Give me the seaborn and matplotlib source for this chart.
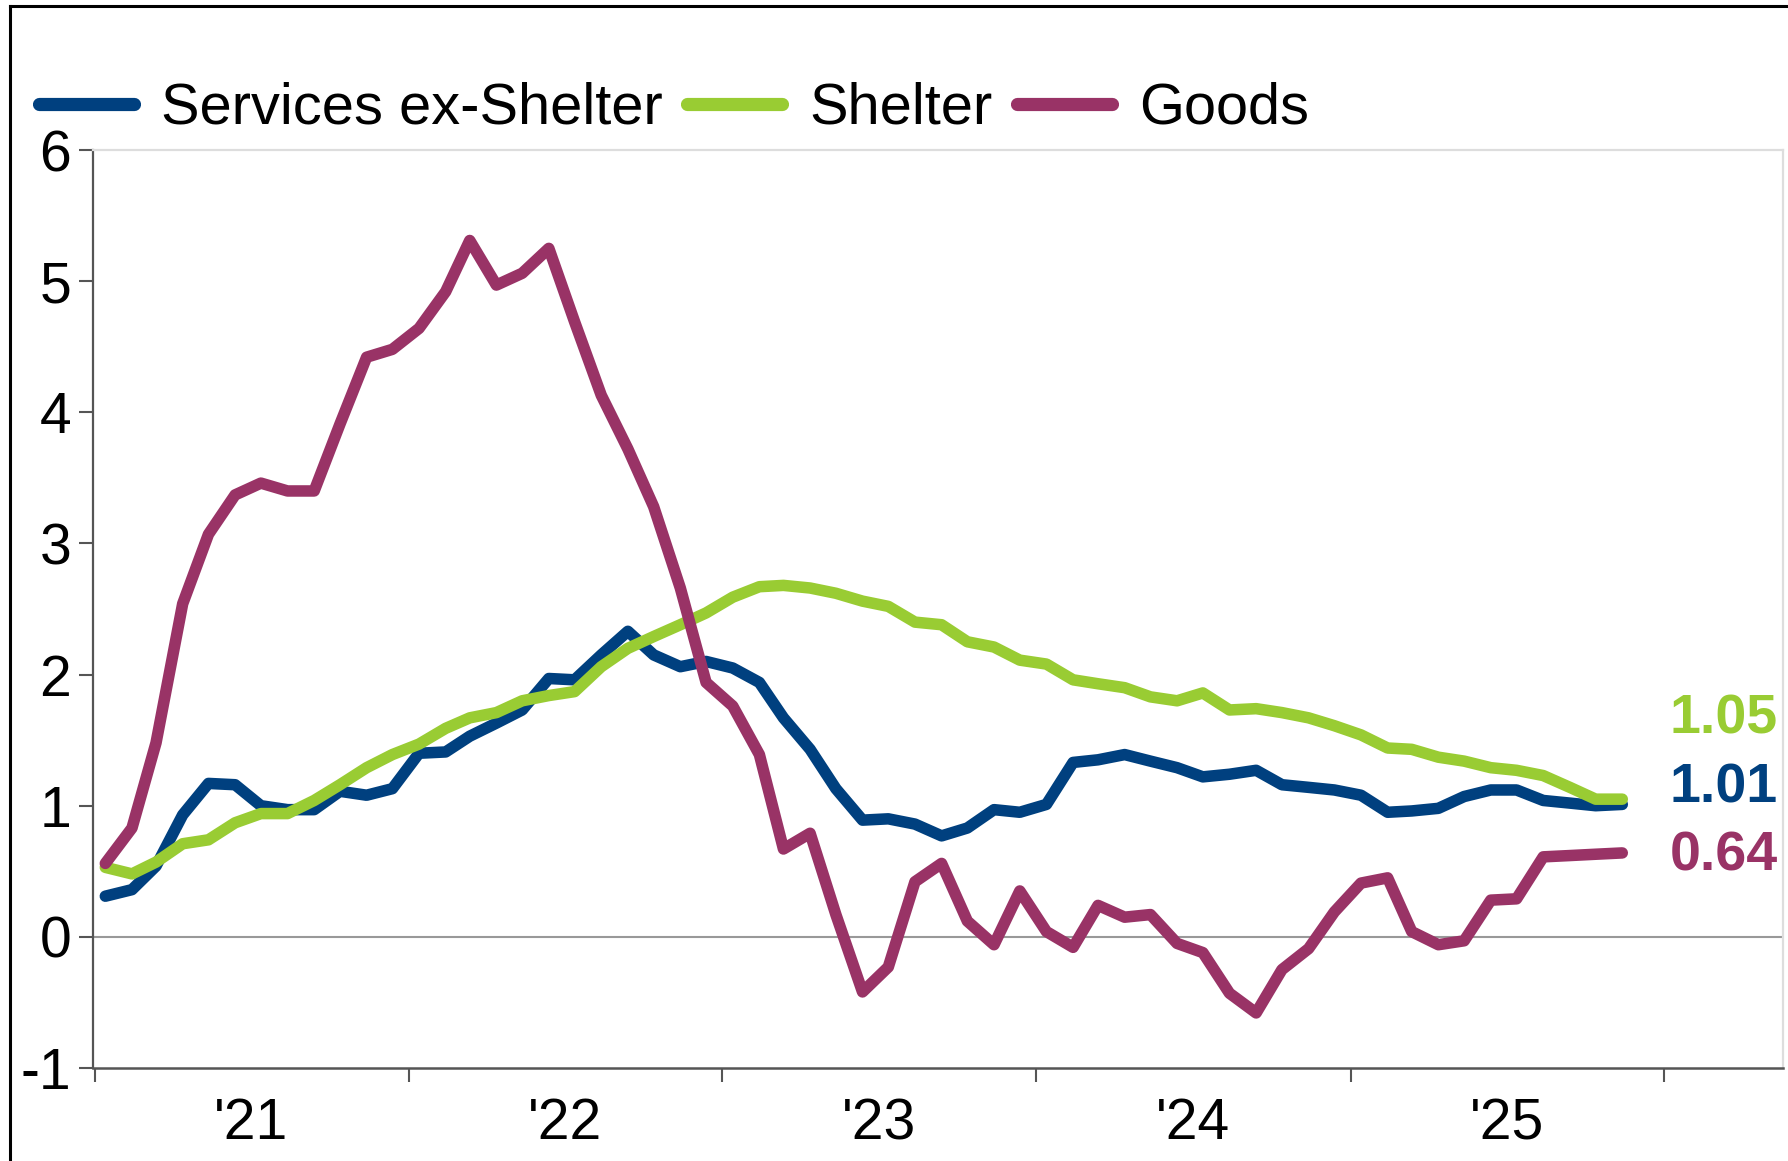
import numpy as np
import pandas as pd
import matplotlib
matplotlib.use("Agg")
import matplotlib.pyplot as plt
import matplotlib.dates as mdates
import matplotlib.transforms as mtransforms
from matplotlib.lines import Line2D
import seaborn as sns

# Monthly observations, Jan 2021 - Nov 2025
months = pd.date_range("2021-01-01", "2025-11-01", freq="MS")

services_ex_shelter = [
    0.31, 0.36, 0.54, 0.93, 1.17, 1.16, 1.00, 0.97, 0.97, 1.11, 1.08, 1.13,
    1.40, 1.41, 1.53, 1.63, 1.73, 1.97, 1.96, 2.15, 2.33, 2.15, 2.06, 2.10,
    2.05, 1.94, 1.67, 1.43, 1.13, 0.89, 0.90, 0.86, 0.77, 0.83, 0.97, 0.95,
    1.01, 1.33, 1.35, 1.39, 1.34, 1.29, 1.22, 1.24, 1.27, 1.16, 1.14, 1.12,
    1.08, 0.95, 0.96, 0.98, 1.07, 1.12, 1.12, 1.04, 1.02, 1.00, 1.01,
]
shelter = [
    0.53, 0.48, 0.57, 0.71, 0.74, 0.87, 0.94, 0.94, 1.04, 1.16, 1.29, 1.39,
    1.47, 1.59, 1.67, 1.71, 1.80, 1.84, 1.87, 2.06, 2.20, 2.29, 2.38, 2.47,
    2.59, 2.67, 2.68, 2.66, 2.62, 2.56, 2.52, 2.40, 2.38, 2.25, 2.21, 2.11,
    2.08, 1.96, 1.93, 1.90, 1.83, 1.80, 1.86, 1.73, 1.74, 1.71, 1.67, 1.61,
    1.54, 1.44, 1.43, 1.37, 1.34, 1.29, 1.27, 1.23, 1.14, 1.05, 1.05,
]
goods = [
    0.56, 0.83, 1.48, 2.54, 3.07, 3.37, 3.46, 3.40, 3.40, 3.91, 4.42, 4.48,
    4.64, 4.92, 5.31, 4.97, 5.06, 5.25, 4.69, 4.13, 3.72, 3.28, 2.66, 1.94,
    1.76, 1.39, 0.67, 0.79, 0.17, -0.42, -0.23, 0.42, 0.56, 0.12, -0.06, 0.35,
    0.04, -0.08, 0.24, 0.15, 0.17, -0.05, -0.12, -0.43, -0.58, -0.25, -0.09, 0.19,
    0.41, 0.45, 0.04, -0.06, -0.03, 0.28, 0.29, 0.61, 0.62, 0.63, 0.64,
]

series_names = ["Services ex-Shelter", "Shelter", "Goods"]
series_colors = ["#00407f", "#99cc33", "#993366"]
year_labels = ["'21", "'22", "'23", "'24", "'25"]
y_ticks = [-1, 0, 1, 2, 3, 4, 5, 6]

# Long-form table for seaborn
wide = pd.DataFrame({
    "date": months + pd.Timedelta(days=12),
    series_names[0]: services_ex_shelter,
    series_names[1]: shelter,
    series_names[2]: goods,
})
df = wide.melt(id_vars="date", var_name="series", value_name="value")
palette = dict(zip(series_names, series_colors))

sns.set_theme(style="white")
plt.rcParams["font.family"] = ["Liberation Sans", "DejaVu Sans"]
plt.rcParams["axes.unicode_minus"] = False
plt.rcParams["text.color"] = "black"

W, H = 1788, 1161
fig = plt.figure(figsize=(W / 100, H / 100), dpi=100)
fig.patch.set_facecolor("white")
ax = fig.add_axes([93.3 / W, 1 - 1068 / H, (1783 - 93.3) / W, (1068 - 150) / H])

sns.lineplot(
    data=df, x="date", y="value", hue="series", hue_order=series_names,
    palette=palette, linewidth=8.3, legend=False, ax=ax,
    solid_capstyle="round", solid_joinstyle="round", zorder=3,
)

ax.axhline(0, color="#999999", lw=1.5, zorder=1)

# Axes limits and ticks
ax.set_ylim(-1, 6)
ax.set_yticks(y_ticks)
ax.set_yticklabels([str(t) for t in y_ticks])
ax.set_xlim(pd.Timestamp("2020-12-30"), pd.Timestamp("2026-05-19"))
ax.xaxis.set_major_locator(mdates.YearLocator())
ax.xaxis.set_major_formatter(plt.NullFormatter())
ax.set_xticks([pd.Timestamp(f"{y}-07-02") for y in range(2021, 2026)], minor=True)
ax.set_xticklabels(year_labels, minor=True)
ax.set_xlabel("")
ax.set_ylabel("")

ax.tick_params(axis="x", which="major", length=10, width=1.5, color="#555555",
               direction="out", bottom=True)
ax.tick_params(axis="x", which="minor", length=0, pad=21, labelsize=41,
               labelcolor="black", bottom=True)
ax.tick_params(axis="y", which="major", length=10, width=1.5, color="#555555",
               direction="out", pad=6, labelsize=41, labelcolor="black", left=True)

for side in ["left", "bottom"]:
    ax.spines[side].set_color("#555555")
ax.spines["left"].set_linewidth(1.6)
ax.spines["bottom"].set_linewidth(1.8)
for side in ["top", "right"]:
    ax.spines[side].set_color("#dddddd")
    ax.spines[side].set_linewidth(1.6)
ax.grid(False)

# End-of-series value labels
trans = mtransforms.blended_transform_factory(ax.transAxes, ax.transData)
end_values = [services_ex_shelter[-1], shelter[-1], goods[-1]]
label_y = [1.135, 1.655, 0.615]
for name, color, val, ly in zip(series_names, series_colors, end_values, label_y):
    ax.text(0.997, ly, f"{val:.2f}", transform=trans, ha="right", va="center",
            fontsize=40, fontweight="bold", color=color)

# Legend across the top
handles = [Line2D([0], [0], color=c, lw=9.5, solid_capstyle="round") for c in series_colors]
leg = fig.legend(handles, series_names, loc="center left",
                 bbox_to_anchor=(38.5 / W, 1 - 109 / H), bbox_transform=fig.transFigure,
                 ncol=3, frameon=False, fontsize=41.6, handlelength=1.65,
                 handletextpad=0.47, columnspacing=0.42, borderpad=0, borderaxespad=0)
for t in leg.get_texts():
    t.set_color("black")

# Outer frame along the left and top edges
fig.add_artist(Line2D([10 / W, 10 / W], [0, 1 - 6 / H], transform=fig.transFigure,
                      color="black", lw=2.2, solid_capstyle="projecting"))
fig.add_artist(Line2D([10 / W, 1], [1 - 6 / H, 1 - 6 / H], transform=fig.transFigure,
                      color="black", lw=2.2, solid_capstyle="projecting"))

fig.savefig("out.png", dpi=100, facecolor="white")
